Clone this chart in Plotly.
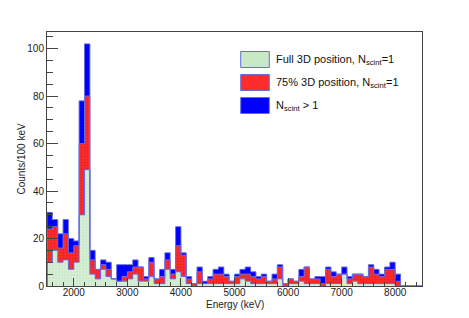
import numpy as np
import plotly.graph_objects as go

# Bin lower edges (keV), 100 keV bins from 1500 to 8500
bin_lo = list(range(1500, 8500, 100))

# Counts per bin for each component
full3d = [10, 15, 10, 11, 7, 10, 30, 49, 5, 3, 7, 4, 3, 2, 2, 3, 5, 2, 2, 4,
          1, 1, 7, 3, 6, 4, 1, 0, 1, 1, 1, 1, 1, 1, 1, 1, 3, 2, 1, 1,
          1, 1, 1, 3, 0, 1, 1, 2, 1, 1, 1, 0, 1, 1, 1, 5, 1, 2, 1, 1,
          1, 1, 1, 1, 1, 0, 0, 0, 0, 0]
part3d = [14, 10, 6, 11, 7, 7, 30, 31, 6, 4, 2, 3, 0, 0, 2, 3, 3, 6, 1, 6,
          2, 3, 4, 2, 11, 9, 2, 1, 5, 0, 2, 4, 4, 3, 1, 3, 2, 3, 3, 2,
          3, 1, 2, 5, 1, 2, 1, 2, 7, 2, 2, 1, 6, 3, 4, 0, 2, 3, 4, 3,
          7, 4, 3, 6, 6, 2, 0, 0, 0, 0]
multi = [7, 3, 6, 6, 6, 2, 18, 22, 4, 0, 2, 3, 0, 7, 5, 3, 3, 0, 1, 2,
         0, 3, 3, 2, 8, 1, 1, 0, 2, 1, 1, 2, 3, 1, 0, 1, 2, 3, 2, 1,
         1, 0, 2, 1, 0, 0, 0, 3, 0, 0, 1, 3, 1, 2, 0, 3, 1, 0, 0, 0,
         1, 2, 1, 1, 3, 3, 0, 0, 0, 0]

x_ticks = [2000, 3000, 4000, 5000, 6000, 7000, 8000]
y_ticks = [0, 20, 40, 60, 80, 100]

legend_labels = ["Full 3D position, N<sub>scint</sub>=1",
                 "75% 3D position, N<sub>scint</sub>=1",
                 "N<sub>scint</sub> &gt; 1"]
x_title = "Energy (keV)"
y_title = "Counts/100 keV"

BIN = 100
centers = [b + BIN / 2 for b in bin_lo]
edges = bin_lo + [bin_lo[-1] + BIN]

green_bg, green_fg = "#c8e8c8", "#f0f9f0"
red_bg, red_fg = "#ff2c2c", "#d01515"
blue = "#0000ff"
outline = "#6b6be0"
FONT = "Liberation Sans, Arial, sans-serif"

L, R, T, B = 47, 47, 32, 32
PW = 469 - L - R
PH = 318 - T - B

fig = go.Figure()
fig.add_trace(go.Bar(x=centers, y=full3d, width=BIN,
                     marker=dict(color=green_bg, line=dict(width=0),
                                 pattern=dict(shape=".", bgcolor=green_bg, fgcolor=green_fg,
                                              size=3, solidity=0.45)),
                     showlegend=False))
fig.add_trace(go.Bar(x=centers, y=part3d, width=BIN,
                     marker=dict(color=red_bg, line=dict(width=0),
                                 pattern=dict(shape=".", bgcolor=red_bg, fgcolor=red_fg,
                                              size=3, solidity=0.4)),
                     showlegend=False))
fig.add_trace(go.Bar(x=centers, y=multi, width=BIN,
                     marker=dict(color=blue, line=dict(width=0)),
                     showlegend=False))

# Step outlines of each cumulative level (as ROOT draws a THStack)
c1 = np.array(full3d)
c2 = c1 + np.array(part3d)
c3 = c2 + np.array(multi)
for lvl in (c3, c2, c1):
    xs = [edges[0]] + list(edges) + [edges[-1]]
    ys = [0] + list(lvl) + [lvl[-1], 0]
    fig.add_trace(go.Scatter(x=xs, y=ys, mode="lines", line_shape="hv",
                             line=dict(color=outline, width=1), hoverinfo="skip",
                             showlegend=False))

# Manual legend (ROOT-like boxes)
fills = [green_bg, red_bg, blue]
row_y = [59.5, 82.5, 105.5]
for lab, fc, yc in zip(legend_labels, fills, row_y):
    fig.add_shape(type="rect", xref="paper", yref="paper",
                  x0=(240.7 - L) / PW, x1=(269.3 - L) / PW,
                  y0=(318 - B - (yc + 8)) / PH, y1=(318 - B - (yc - 8)) / PH,
                  fillcolor=fc, line=dict(color=outline, width=1))
    fig.add_annotation(xref="paper", yref="paper",
                       x=(274 - L) / PW, y=(318 - B - yc) / PH,
                       text=lab, showarrow=False, xanchor="left", yanchor="middle",
                       font=dict(family=FONT, size=11, color="#111"))

# Axis titles placed like ROOT
fig.add_annotation(xref="paper", yref="paper", x=0.5, y=(318 - B - 304.5) / PH,
                   text=x_title, showarrow=False, xanchor="center", yanchor="middle",
                   font=dict(family=FONT, size=10, color="#222"))
fig.add_annotation(xref="paper", yref="paper", x=(20.5 - L) / PW, y=0.5,
                   text=y_title, showarrow=False, textangle=-90,
                   xanchor="center", yanchor="middle",
                   font=dict(family=FONT, size=10, color="#222"))

axis_common = dict(showline=True, linecolor="#444", linewidth=1, mirror=True,
                   showgrid=False, zeroline=False, ticks="inside", automargin=False,
                   tickcolor="#444", tickfont=dict(family=FONT, size=10, color="#222"))

fig.update_layout(
    width=469, height=318,
    margin=dict(l=L, r=R, t=T, b=B),
    paper_bgcolor="white", plot_bgcolor="white",
    barmode="stack", bargap=0,
    xaxis=dict(range=[1500, 8500], tickvals=x_ticks, ticklen=8, ticklabelstandoff=-3,
               minor=dict(dtick=200, ticklen=4, ticks="inside", tickcolor="#444"),
               **axis_common),
    yaxis=dict(range=[0, 107], tickvals=y_ticks, ticklen=11,
               minor=dict(dtick=5, ticklen=6, ticks="inside", tickcolor="#444"),
               **axis_common),
)

fig.write_html("out.html", config={"displayModeBar": False},
               post_script="document.body.style.margin='0';document.body.style.overflow='hidden';")
